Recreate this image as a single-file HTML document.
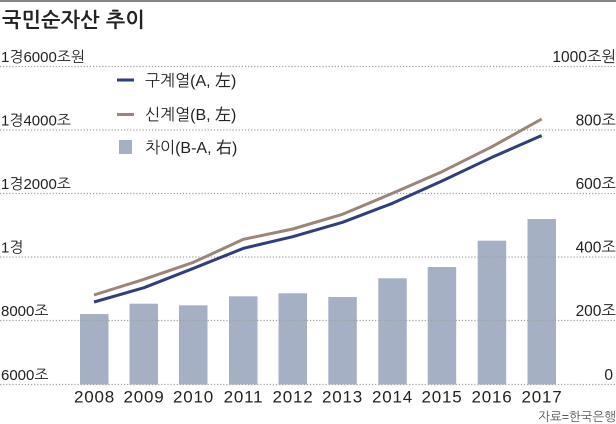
<!DOCTYPE html>
<html><head><meta charset="utf-8">
<style>
html,body{margin:0;padding:0;background:#fff;}
svg{display:block;}
text{font-family:"Liberation Sans","NanumGothic","Noto Sans CJK KR",sans-serif;}
</style></head>
<body>
<svg width="616" height="424" viewBox="0 0 616 424" xmlns="http://www.w3.org/2000/svg">
<rect x="0" y="0" width="616" height="424" fill="#fff"/>
<rect x="0" y="0" width="616" height="2" fill="#858585"/>
<text x="2" y="27" font-size="20.5" font-weight="bold" fill="#222" letter-spacing="0.3">국민순자산 추이</text>

<!-- bars -->
<g fill="#a6b0c5">
<rect x="80" y="314" width="28.5" height="70.5"/>
<rect x="129.5" y="303.7" width="28.5" height="80.8"/>
<rect x="179" y="305.3" width="28.5" height="79.2"/>
<rect x="229" y="296.3" width="28.5" height="88.2"/>
<rect x="278.5" y="293.3" width="28.5" height="91.2"/>
<rect x="328.3" y="297" width="28.5" height="87.5"/>
<rect x="378.3" y="278.3" width="28.5" height="106.2"/>
<rect x="427.7" y="267" width="28.5" height="117.5"/>
<rect x="477.7" y="240.7" width="28.5" height="143.8"/>
<rect x="527.5" y="219" width="28.5" height="165.5"/>
</g>

<!-- gridlines -->
<g stroke="#a0a0a0" stroke-width="1.3" stroke-dasharray="1.2 1.9">
<line x1="0" y1="66.5" x2="616" y2="66.5"/>
<line x1="0" y1="130" x2="616" y2="130"/>
<line x1="0" y1="193.5" x2="616" y2="193.5"/>
<line x1="0" y1="257" x2="616" y2="257"/>
<line x1="0" y1="320.5" x2="616" y2="320.5"/>
<line x1="0" y1="384.5" x2="616" y2="384.5"/>
</g>

<!-- left labels -->
<g font-size="15" fill="#222">
<text x="1" y="62">1경6000조원</text>
<text x="1" y="125.5">1경4000조</text>
<text x="1" y="189">1경2000조</text>
<text x="1" y="252.5">1경</text>
<text x="1" y="316">8000조</text>
<text x="1" y="380">6000조</text>
</g>
<!-- right labels -->
<g font-size="15.5" fill="#222" text-anchor="end">
<text x="616" y="62">1000조원</text>
<text x="616" y="125.5">800조</text>
<text x="616" y="189">600조</text>
<text x="616" y="252.5">400조</text>
<text x="616" y="316">200조</text>
<text x="613" y="380">0</text>
</g>

<!-- lines -->
<polyline fill="none" stroke="#9a8578" stroke-width="3" stroke-linejoin="round" points="94,295 144,279.3 193.5,262.3 243.5,239.3 292.7,229 342.5,214.3 392.5,193.3 442,171.7 492,146.7 541.7,119"/>
<polyline fill="none" stroke="#2f3f7d" stroke-width="3" stroke-linejoin="round" points="94,302 144,287.7 193.5,268.3 243.5,248.3 292.7,236.7 342.5,222.3 392.5,203.3 442,181 492,157.3 541.7,135.5"/>

<!-- legend -->
<rect x="117" y="78.5" width="17" height="3" fill="#2f3f7d"/>
<text x="145" y="86" font-size="16" fill="#222">구계열(A, 左)</text>
<rect x="117" y="113" width="17" height="3" fill="#9a8578"/>
<text x="145" y="120" font-size="16" fill="#222">신계열(B, 左)</text>
<rect x="119" y="140" width="13" height="14" fill="#a6b0c5"/>
<text x="145" y="153" font-size="16" fill="#222">차이(B-A, 右)</text>

<!-- x labels -->
<g font-size="17" fill="#222" text-anchor="middle" letter-spacing="0.8">
<text x="94.5" y="402.5">2008</text>
<text x="144" y="402.5">2009</text>
<text x="193.5" y="402.5">2010</text>
<text x="243.5" y="402.5">2011</text>
<text x="293" y="402.5">2012</text>
<text x="342.5" y="402.5">2013</text>
<text x="392.5" y="402.5">2014</text>
<text x="442" y="402.5">2015</text>
<text x="492" y="402.5">2016</text>
<text x="542" y="402.5">2017</text>
</g>

<text x="616" y="421" font-size="12.5" fill="#555" text-anchor="end">자료=한국은행</text>
</svg>
</body></html>
